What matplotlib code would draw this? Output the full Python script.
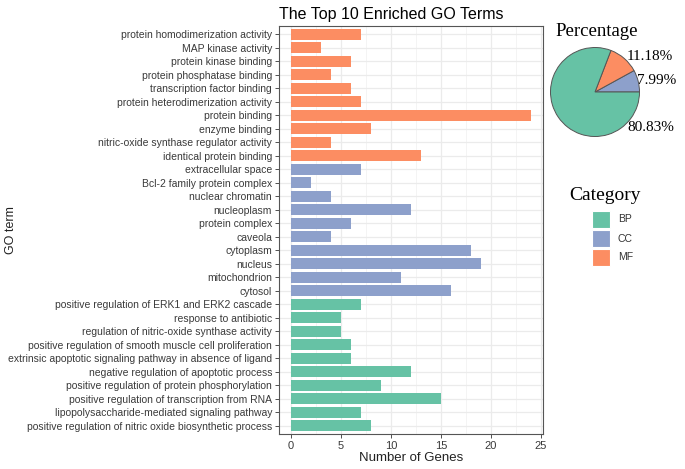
import matplotlib
matplotlib.use("Agg")
import matplotlib.pyplot as plt
from matplotlib.patches import Rectangle

plt.rcParams["font.family"] = ["Liberation Sans", "DejaVu Sans"]

# ---------------- data ----------------
terms = [
    "protein homodimerization activity", "MAP kinase activity", "protein kinase binding",
    "protein phosphatase binding", "transcription factor binding",
    "protein heterodimerization activity", "protein binding", "enzyme binding",
    "nitric-oxide synthase regulator activity", "identical protein binding",
    "extracellular space", "Bcl-2 family protein complex", "nuclear chromatin",
    "nucleoplasm", "protein complex", "caveola", "cytoplasm", "nucleus",
    "mitochondrion", "cytosol",
    "positive regulation of ERK1 and ERK2 cascade", "response to antibiotic",
    "regulation of nitric-oxide synthase activity",
    "positive regulation of smooth muscle cell proliferation",
    "extrinsic apoptotic signaling pathway in absence of ligand",
    "negative regulation of apoptotic process",
    "positive regulation of protein phosphorylation",
    "positive regulation of transcription from RNA",
    "lipopolysaccharide-mediated signaling pathway",
    "positive regulation of nitric oxide biosynthetic process",
]
gene_counts = [7, 3, 6, 4, 6, 7, 24, 8, 4, 13,
               7, 2, 4, 12, 6, 4, 18, 19, 11, 16,
               7, 5, 5, 6, 6, 12, 9, 15, 7, 8]
term_category = ["MF"] * 10 + ["CC"] * 10 + ["BP"] * 10

legend_categories = ["BP", "CC", "MF"]
category_colors = {"BP": "#66C2A5", "CC": "#8DA0CB", "MF": "#FC8D62"}

pie_categories = ["CC", "MF", "BP"]
pie_percent = [7.99, 11.18, 80.83]
pie_labels = ["7.99%", "11.18%", "80.83%"]

x_ticks = [0, 5, 10, 15, 20, 25]

# ---------------- figure ----------------
W, H = 685, 469
fig = plt.figure(figsize=(W / 100, H / 100), dpi=100)

def fx(px):
    return px / W

def fy(py):
    return 1 - py / H

# main bar axes
ax = fig.add_axes([fx(279), fy(434), fx(543) - fx(279), fy(26) - fy(434)])
n = len(terms)
ypos = [n - 1 - i for i in range(n)]
colors = [category_colors[c] for c in term_category]
ax.barh(ypos, gene_counts, height=0.8, color=colors, zorder=3)
ax.set_yticks(ypos)
ax.set_yticklabels(terms)
ax.set_ylim(-0.6, n - 1 + 0.6)
ax.set_xlim(-1.2, 25.2)
ax.set_xticks(x_ticks)
ax.set_xticks([2.5, 7.5, 12.5, 17.5, 22.5], minor=True)
ax.tick_params(axis="x", which="minor", length=0)
ax.grid(True, which="major", color="#EBEBEB", linewidth=0.9, zorder=0)
ax.grid(True, which="minor", axis="x", color="#F2F2F2", linewidth=0.6, zorder=0)
ax.tick_params(axis="both", which="major", length=3, width=0.6, color="#333333",
               labelcolor="#3A3A3A", labelsize=7.5, pad=2)
ax.tick_params(axis="x", labelsize=8)
for s in ax.spines.values():
    s.set_color("#555555")
    s.set_linewidth(0.8)
ax.set_xlabel("Number of Genes", fontsize=9.5, color="#222222", labelpad=1)
fig.text(fx(11), (fy(434) + fy(26)) / 2, "GO term", rotation=90,
         va="center", ha="center", fontsize=9, color="#222222")
ax.set_title("The Top 10 Enriched GO Terms", loc="left", fontsize=11.5, pad=5)

# pie axes
r = 44.5
cx, cy = 595, 92
pax = fig.add_axes([fx(cx - r), fy(cy + r), fx(2 * r), fy(cy - r) - fy(cy + r)])
pax.pie(pie_percent, colors=[category_colors[c] for c in pie_categories],
        startangle=0, counterclock=True,
        wedgeprops=dict(edgecolor="#555555", linewidth=0.7))
pax.set_aspect("equal")
pax.set_xlim(-1, 1)
pax.set_ylim(-1, 1)
serif = "Liberation Serif"
fig.text(fx(555), fy(31), "Percentage", fontsize=13.5, family=serif, va="center", ha="left")
label_pos = [(637, 80), (627, 57), (627, 127)]
for (lx, ly), lab in zip(label_pos, pie_labels):
    fig.text(fx(lx), fy(ly), lab, fontsize=11, family=serif, va="center", ha="left")

# legend
fig.text(fx(569), fy(195), "Category", fontsize=14, family=serif, va="center", ha="left")
for i, cat in enumerate(legend_categories):
    top = 211 + i * 19
    fig.patches.append(Rectangle((fx(592), fy(top + 17)), fx(18), fy(top) - fy(top + 17),
                                 transform=fig.transFigure, facecolor=category_colors[cat],
                                 edgecolor="white", linewidth=0.8))
    fig.text(fx(618), fy(top + 8.5), cat, fontsize=7.5, color="#333333", va="center", ha="left")

fig.savefig("out.png", dpi=100)
